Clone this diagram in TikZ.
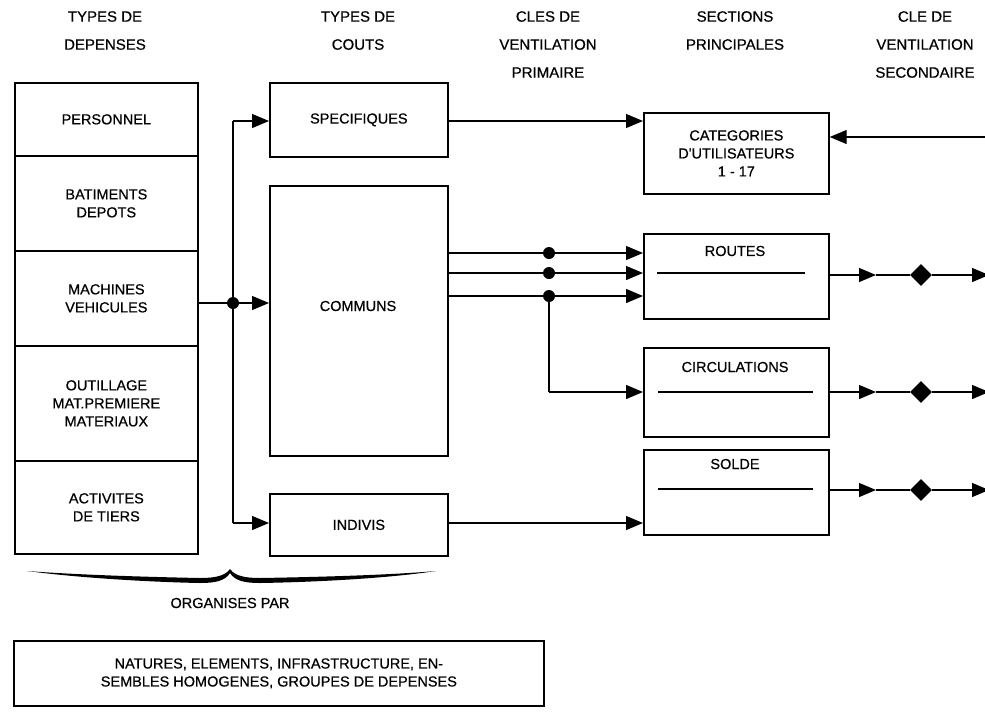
\documentclass[tikz,border=0pt]{standalone}
\usepackage{fontspec}
\setmainfont{Liberation Sans}
\newfontfamily\heavy{Liberation Sans}[FakeBold=0.6]
\usetikzlibrary{arrows.meta,shapes.geometric}
\begin{document}
\begin{tikzpicture}[x=1pt,y=-1pt,
  box/.style={draw,line width=1.7pt,inner sep=0pt,anchor=north west,align=center,font=\heavy\fontsize{14.5}{18}\selectfont},
  hdr/.style={align=center,inner sep=0pt,anchor=north,font=\heavy\fontsize{15}{28}\selectfont},
  lbl/.style={align=center,inner sep=0pt,font=\heavy\fontsize{14.5}{18}\selectfont},
  conn/.style={line width=1.2pt},
  arr/.style={conn,-{Triangle[length=17pt,width=14pt]}},
  jdot/.style={circle,fill,inner sep=0pt,minimum size=12pt},
  dia/.style={diamond,fill,inner sep=0pt,minimum width=22pt,minimum height=22pt},
]
\useasboundingbox (0,0) rectangle (985,716);

% headers
\node[hdr] (h1) at (105,11) {TYPES DE\\DEPENSES};
\node[hdr] (h2) at (358,11) {TYPES DE\\COUTS};
\node[hdr] (h3) at (548,11) {CLES DE\\VENTILATION\\PRIMAIRE};
\node[hdr] (h4) at (735,11) {SECTIONS\\PRINCIPALES};
\node[hdr] (h5) at (925,11) {CLE DE\\VENTILATION\\SECONDAIRE};

% left column
\node[box,minimum width=183pt,minimum height=73pt] (pers) at (14,82) {PERSONNEL};
\node[box,minimum width=183pt,minimum height=95pt] (bat) at (14,155) {BATIMENTS\\DEPOTS};
\node[box,minimum width=183pt,minimum height=95pt] (mach) at (14,250) {MACHINES\\VEHICULES};
\node[box,minimum width=183pt,minimum height=115pt] (out) at (14,345) {OUTILLAGE\\MAT.PREMIERE\\MATERIAUX};
\node[box,minimum width=183pt,minimum height=93pt] (act) at (14,460) {ACTIVITES\\DE TIERS};

% cost types
\node[box,minimum width=178pt,minimum height=74pt] (spec) at (269,82) {SPECIFIQUES};
\node[box,minimum width=178pt,minimum height=270pt] (comm) at (269,185) {};
\node[lbl] (comml) at (358,306) {COMMUNS};
\node[box,minimum width=178pt,minimum height=62pt] (indiv) at (269,493) {INDIVIS};

% main sections
\node[box,minimum width=185pt,minimum height=81pt] (cat) at (643,112) {CATEGORIES\\D'UTILISATEURS\\1 - 17};
\node[box,minimum width=185pt,minimum height=85pt] (rout) at (643,233) {};
\node[box,minimum width=185pt,minimum height=89pt] (circ) at (643,347) {};
\node[box,minimum width=185pt,minimum height=85pt] (sold) at (643,449) {};
\node[lbl] (routl) at (735,251) {ROUTES};
\node[lbl] (circl) at (735,367) {CIRCULATIONS};
\node[lbl] (soldl) at (735,464) {SOLDE};
\draw[conn] (657,273) -- (805,273);
\draw[conn] (658,392) -- (813,392);
\draw[conn] (658,489) -- (813,489);

% left fork
\node[jdot] (j0) at (233,303) {};
\coordinate (jt) at (233,121);
\coordinate (jb) at (233,523);
\draw[conn] (mach.east |- j0) -- (j0);
\draw[arr] (j0) -- (comm.west |- j0);
\draw[conn] (jt) -- (jb);
\draw[arr] (jt) -- (spec.west |- jt);
\draw[arr] (jb) -- (indiv.west |- jb);

% primary keys
\draw[arr] (spec.east |- 0,121) -- (cat.west |- 0,121);
\node[jdot] (d1) at (549,253) {};
\node[jdot] (d2) at (549,273) {};
\node[jdot] (d3) at (549,296) {};
\draw[conn] (comm.east |- d1) -- (d1);
\draw[conn] (comm.east |- d2) -- (d2);
\draw[conn] (comm.east |- d3) -- (d3);
\draw[arr] (d1) -- (rout.west |- d1);
\draw[arr] (d2) -- (rout.west |- d2);
\draw[arr] (d3) -- (rout.west |- d3);
\coordinate (c1) at (549,392);
\draw[conn] (d3) -- (c1);
\draw[arr] (c1) -- (circ.west |- c1);
\draw[arr] (indiv.east |- 0,523) -- (sold.west |- 0,523);

% secondary keys
\coordinate (rin) at (995,137);
\draw[arr] (rin) -- (cat.east |- rin);
\foreach \n/\y in {rout/275,circ/392,sold/490}{
  \coordinate (m\n) at (876,\y);
  \node[dia] (k\n) at (921,\y) {};
  \coordinate (e\n) at (989,\y);
  \draw[arr] (\n.east |- m\n) -- (m\n);
  \draw[conn] (m\n) -- (k\n);
  \draw[arr] (k\n) -- (e\n);
}

% brace
\fill (27,571) .. controls (80,578) and (150,582) .. (200,583)
  .. controls (215,583) and (225,581) .. (230,573)
  .. controls (235,581) and (245,583) .. (260,583)
  .. controls (320,582) and (390,578) .. (436,571)
  .. controls (390,575) and (320,577) .. (260,578)
  .. controls (245,578) and (235,576) .. (230,569)
  .. controls (225,576) and (215,578) .. (200,578)
  .. controls (150,577) and (80,575) .. (27,571) -- cycle;
\node[lbl] (org) at (230,603) {ORGANISES PAR};

% bottom box
\node[box,minimum width=530pt,minimum height=65pt] (nat) at (13,640) {NATURES, ELEMENTS, INFRASTRUCTURE, EN-\\SEMBLES HOMOGENES, GROUPES DE DEPENSES};
\end{tikzpicture}
\end{document}
